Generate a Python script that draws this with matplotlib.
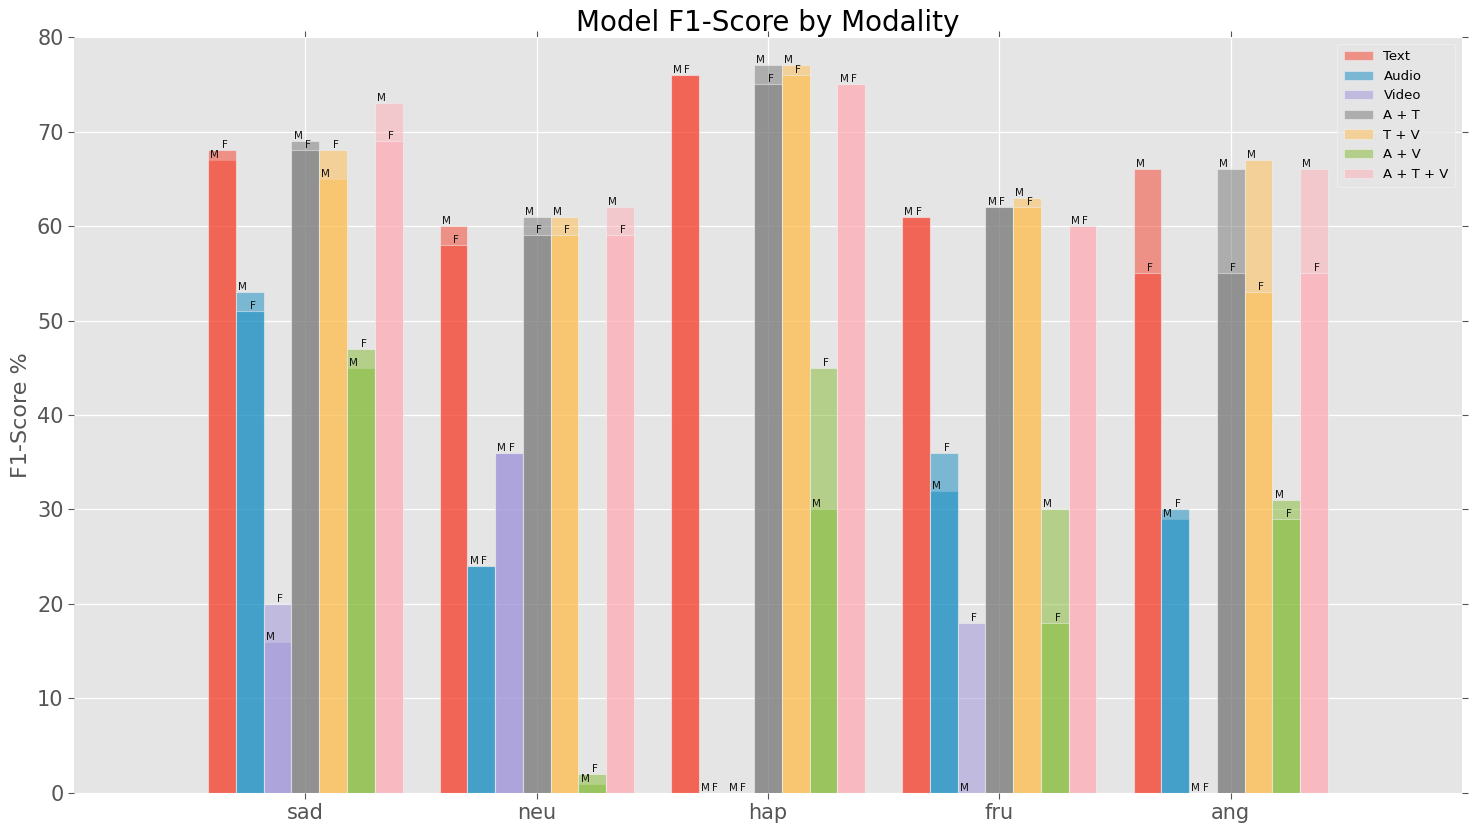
import matplotlib
matplotlib.use("Agg")
import matplotlib.pyplot as plt
import numpy as np

plt.style.use('ggplot')
plt.rcParams['font.family'] = ['DejaVu Sans']

emotions = ['sad', 'neu', 'hap', 'fru', 'ang']
modalities = ['Text', 'Audio', 'Video', 'A + T', 'T + V', 'A + V', 'A + T + V']
colors = ['#F63C28', '#108AC1', '#9A90D9', '#767676', '#FFBC4C', '#82BA31', '#FFADB5']

# male scores per modality, one value per emotion (sad, neu, hap, fru, ang)
male_text = [67, 60, 76, 61, 66]
male_audio = [53, 24, 0, 32, 29]
male_video = [16, 36, 0, 0, 0]
male_at = [69, 61, 77, 62, 66]
male_tv = [65, 61, 77, 63, 67]
male_av = [45, 1, 30, 30, 31]
male_atv = [73, 62, 75, 60, 66]

# female scores
female_text = [68, 58, 76, 61, 55]
female_audio = [51, 24, 0, 36, 30]
female_video = [20, 36, 0, 18, 0]
female_at = [68, 59, 75, 62, 55]
female_tv = [68, 59, 76, 62, 53]
female_av = [47, 2, 45, 18, 29]
female_atv = [69, 59, 75, 60, 55]

male = [male_text, male_audio, male_video, male_at, male_tv, male_av, male_atv]
female = [female_text, female_audio, female_video, female_at, female_tv, female_av, female_atv]

fig = plt.figure(figsize=(14.72, 8.32), dpi=100)
ax = fig.add_axes([0.0503, 0.0469, 0.9429, 0.9086])

x = np.arange(len(emotions))
w = 0.12
alpha = 0.5
for i, (mod, col) in enumerate(zip(modalities, colors)):
    pos = x + (i - 3) * w
    ax.bar(pos, male[i], w, color=col, alpha=alpha, edgecolor='#F2F2F2',
           linewidth=0.8, label=mod)
    ax.bar(pos, female[i], w, color=col, alpha=alpha, edgecolor='#F2F2F2',
           linewidth=0.8)
    for p, mv, fv in zip(pos, male[i], female[i]):
        left = p - w / 2
        ax.text(left + 0.08 * w, mv, 'M', ha='left', va='bottom', fontsize=7.5,
                color='#111111')
        ax.text(left + 0.49 * w, fv, 'F', ha='left', va='bottom', fontsize=7.5,
                color='#111111')

ax.set_xlim(-1, 5)
ax.set_ylim(0, 80)
ax.set_xticks(x)
ax.set_xticklabels(emotions)
ax.set_yticks(np.arange(0, 81, 10))
ax.tick_params(axis='both', which='major', labelsize=15, colors='#555555',
               direction='out', top=True, right=True, length=4, width=0.8)
ax.tick_params(labelcolor='#555555')
ax.set_ylabel('F1-Score %', fontsize=16, color='#555555')
ax.set_title('Model F1-Score by Modality', fontsize=20, color='black', pad=4)
ax.grid(True, color='white', linewidth=0.9)
ax.set_axisbelow(True)
for s in ax.spines.values():
    s.set_visible(False)

leg = ax.legend(loc='upper right', fontsize=9.5, frameon=True, facecolor='#E5E5E5',
                edgecolor='#F5F5F5', handlelength=2.2, borderpad=0.5, labelspacing=0.5)

fig.savefig('out.png', dpi=100)
